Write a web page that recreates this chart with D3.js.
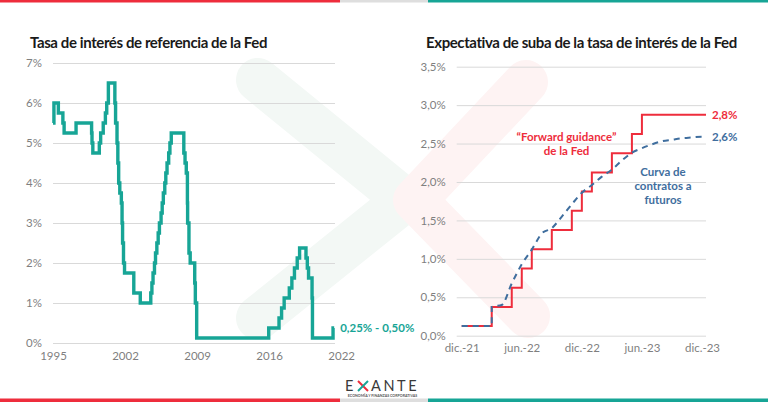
<!DOCTYPE html>
<html><head><meta charset="utf-8">
<script src="https://cdn.jsdelivr.net/npm/d3@7"></script>
<style>
html,body{margin:0;padding:0;background:#fff;}
svg{display:block;font-family:Lato,"Open Sans",sans-serif;}
</style></head>
<body>
<svg id="c" width="768" height="402"></svg>
<script>
// ---------- DATA ----------
const leftTitle = "Tasa de interés de referencia de la Fed";
const rightTitle = "Expectativa de suba de la tasa de interés de la Fed";

// Fed funds target (midpoint), step changes: decimal year -> rate (%)
const fedDates = [1995.00,1995.09,1995.52,1995.96,1996.08,1997.24,1998.75,1998.79,1998.87,1999.50,1999.63,1999.88,
  2000.09,2000.22,2000.38,2001.01,2001.08,2001.22,2001.30,2001.38,2001.49,2001.64,2001.71,2001.76,2001.85,2001.95,
  2002.85,2003.48,2004.50,2004.61,2004.72,2004.86,2004.96,2005.09,2005.22,2005.34,2005.50,2005.61,2005.72,2005.86,
  2005.96,2006.08,2006.24,2006.36,2006.49,2007.71,2007.83,2007.95,2008.06,2008.08,2008.21,2008.33,2008.77,2008.83,
  2008.96,2015.96,2016.96,2017.21,2017.46,2017.96,2018.21,2018.46,2018.73,2018.96,2019.58,2019.71,2019.83,2020.17,
  2020.21,2022.21,2022.32];
const fedRates = [5.5,6.0,5.75,5.5,5.25,5.5,5.25,5.0,4.75,5.0,5.25,5.5,
  5.75,6.0,6.5,6.0,5.5,5.0,4.5,4.0,3.75,3.5,3.0,2.5,2.0,1.75,
  1.25,1.0,1.25,1.5,1.75,2.0,2.25,2.5,2.75,3.0,3.25,3.5,3.75,4.0,
  4.25,4.5,4.75,5.0,5.25,4.75,4.5,4.25,3.5,3.0,2.25,2.0,1.5,1.0,
  0.125,0.375,0.625,0.875,1.125,1.375,1.625,1.875,2.125,2.375,2.125,1.875,1.625,1.125,
  0.125,0.375,0.375];
const leftYTicks = [0,1,2,3,4,5,6,7];
const leftXTickValues = [1995,2002,2009,2016,2023];
const leftXTickLabels = ["1995","2002","2009","2016","2022"];
const leftEndLabel = "0,25% - 0,50%";

// Right chart: months since dic.-21
const guidanceMonths = [0,3,5,6,7,9,11,12,13,15,17,18,24.4];
const guidanceRates  = [0.125,0.375,0.625,0.875,1.125,1.375,1.625,1.875,2.125,2.375,2.625,2.875,2.875];
const futuresMonths = [0,3,3,4,5,6,7,8,9,10,11,12,13,14,15,16,17,18,19,20,21,22,23,24,24.4];
const futuresRates  = [0.125,0.125,0.375,0.40,0.68,0.93,1.12,1.33,1.40,1.55,1.71,1.86,1.96,2.07,2.16,2.28,2.38,2.44,2.49,2.53,2.55,2.57,2.58,2.59,2.59];
const rightYTicks = [0,0.5,1,1.5,2,2.5,3,3.5];
const rightXTickValues = [0,6,12,18,24];
const rightXTickLabels = ["dic.-21","jun.-22","dic.-22","jun.-23","dic.-23"];
const guidanceEndLabel = "2,8%";
const futuresEndLabel = "2,6%";
const guidanceNote = ["\u201CForward guidance\u201D","de la Fed"];
const futuresNote = ["Curva de","contratos a","futuros"];

// ---------- STYLE ----------
const RED = "#ee2d3c", TEAL = "#17a596", BLUE = "#3f6e9e", GRID = "#d9d9d9", TICK = "#7f7f7f";

const svg = d3.select("#c");

// top & bottom brand bars
[[0,340,RED],[340,428,"#dedede"],[428,768,TEAL]].forEach(([a,b,c])=>{
  svg.append("rect").attr("x",a).attr("y",0).attr("width",b-a).attr("height",2.5).attr("fill",c);
  svg.append("rect").attr("x",a).attr("y",398.5).attr("width",b-a).attr("height",3.5).attr("fill",c);
});

// watermark chevrons
const wm = svg.append("g").attr("fill","none").attr("stroke-linecap","round").attr("stroke-linejoin","round").attr("stroke-width",44);
wm.append("path").attr("d","M258,80 L405,200 L258,318").attr("stroke","#f3f8f5");
wm.append("path").attr("d","M526,82 L415,200 L528,316").attr("stroke","#fef3f3");

function fitTitle(sel, target){
  const w = sel.node().getComputedTextLength();
  const n = sel.text().length;
  sel.attr("letter-spacing", (target - w)/n);
}

// ---------- LEFT CHART ----------
const xL = d3.scaleLinear().domain([1995,2022.4]).range([53,335]);
const yL = d3.scaleLinear().domain([0,7]).range([343,63]);
const gL = svg.append("g");

const tL = gL.append("text").attr("x",30).attr("y",48).attr("font-size",15).attr("font-weight",700).attr("fill","#1a1a1a").text(leftTitle);
fitTitle(tL,237);

gL.append("g").attr("transform","translate(53,0)")
  .call(d3.axisLeft(yL).tickValues(leftYTicks).tickSizeInner(-(335-53)).tickSizeOuter(0).tickPadding(11).tickFormat(d=>d+"%"))
  .call(g=>{g.select(".domain").remove();
    g.selectAll("line").attr("stroke",GRID);
    g.selectAll("text").attr("fill",TICK).attr("font-size",11.5).attr("font-family","Lato,sans-serif");});

gL.append("g").attr("transform","translate(0,343)")
  .call(d3.axisBottom(xL).tickValues(leftXTickValues).tickSize(0).tickPadding(9).tickFormat((d,i)=>leftXTickLabels[i]))
  .call(g=>{g.select(".domain").remove();
    g.selectAll("text").attr("fill",TICK).attr("font-size",11.5).attr("font-family","Lato,sans-serif");});

const fed = fedDates.map((d,i)=>[d,fedRates[i]]);
gL.append("path").datum(fed)
  .attr("d",d3.line().x(d=>xL(d[0])).y(d=>yL(d[1])).curve(d3.curveStepAfter))
  .attr("fill","none").attr("stroke",TEAL).attr("stroke-width",3.4).attr("stroke-linejoin","miter");

gL.append("text").attr("x",xL(fedDates[fedDates.length-1])+6).attr("y",yL(0.375)+4)
  .attr("font-size",11.5).attr("font-weight",700).attr("fill",TEAL).text(leftEndLabel);

// ---------- RIGHT CHART ----------
const xR = d3.scaleLinear().domain([0,24.4]).range([461.7,706]);
const yR = d3.scaleLinear().domain([0,3.5]).range([335.7,66.7]);
const gR = svg.append("g");

const tR = gR.append("text").attr("x",426).attr("y",48).attr("font-size",15).attr("font-weight",700).attr("fill","#1a1a1a").text(rightTitle);
fitTitle(tR,311);

const gx0 = xR(-0.5);
gR.append("g").attr("transform",`translate(${gx0},0)`)
  .call(d3.axisLeft(yR).tickValues(rightYTicks).tickSizeInner(-(706-gx0)).tickSizeOuter(0).tickPadding(11)
    .tickFormat(d=>d3.format(".1f")(d).replace(".",",")+"%"))
  .call(g=>{g.select(".domain").remove();
    g.selectAll("line").attr("stroke",GRID);
    g.selectAll("text").attr("fill",TICK).attr("font-size",11.5).attr("font-family","Lato,sans-serif");});

gR.append("g").attr("transform","translate(0,335.7)")
  .call(d3.axisBottom(xR).tickValues(rightXTickValues).tickSize(0).tickPadding(8).tickFormat((d,i)=>rightXTickLabels[i]))
  .call(g=>{g.select(".domain").remove();
    g.selectAll("text").attr("fill",TICK).attr("font-size",11.5).attr("font-family","Lato,sans-serif");});

const guidance = guidanceMonths.map((m,i)=>[m,guidanceRates[i]]);
gR.append("path").datum(guidance)
  .attr("d",d3.line().x(d=>xR(d[0])).y(d=>yR(d[1])).curve(d3.curveStepAfter))
  .attr("fill","none").attr("stroke",RED).attr("stroke-width",2);

const futures = futuresMonths.map((m,i)=>[m,futuresRates[i]]);
gR.append("path").datum(futures)
  .attr("d",d3.line().x(d=>xR(d[0])).y(d=>yR(d[1])).curve(d3.curveMonotoneX))
  .attr("fill","none").attr("stroke",BLUE).attr("stroke-width",2).attr("stroke-dasharray","6,5");

gR.append("text").attr("x",xR(24.4)+6).attr("y",yR(2.875)+4).attr("font-size",11.5).attr("font-weight",700).attr("fill",RED).text(guidanceEndLabel);
gR.append("text").attr("x",xR(24.4)+6).attr("y",yR(2.59)+4).attr("font-size",11.5).attr("font-weight",700).attr("fill",BLUE).text(futuresEndLabel);

guidanceNote.forEach((s,i)=>gR.append("text").attr("x",566.5).attr("y",141+i*14).attr("text-anchor","middle")
  .attr("font-size",11.5).attr("font-weight",700).attr("fill",RED).text(s));
futuresNote.forEach((s,i)=>gR.append("text").attr("x",663).attr("y",176+i*14).attr("text-anchor","middle")
  .attr("font-size",11.5).attr("font-weight",700).attr("fill",BLUE).text(s));

// ---------- LOGO ----------
const lg = svg.append("g");
lg.append("text").attr("x",345).attr("y",391).attr("font-size",14.5).attr("fill","#3a3a3a").attr("font-family","Lato,sans-serif").attr("letter-spacing",1).text("E");
lg.append("line").attr("x1",358).attr("y1",381).attr("x2",368).attr("y2",391).attr("stroke",RED).attr("stroke-width",2);
lg.append("line").attr("x1",358).attr("y1",391).attr("x2",368).attr("y2",381).attr("stroke",TEAL).attr("stroke-width",2);
lg.append("text").attr("x",371).attr("y",391).attr("font-size",14.5).attr("fill","#3a3a3a").attr("font-family","Lato,sans-serif").attr("letter-spacing",2.6).text("ANTE");
lg.append("text").attr("x",382.5).attr("y",396.5).attr("text-anchor","middle").attr("font-size",3.6).attr("fill","#555").attr("font-weight",700).text("ECONOMÍA Y FINANZAS CORPORATIVAS");
</script>
</body></html>
